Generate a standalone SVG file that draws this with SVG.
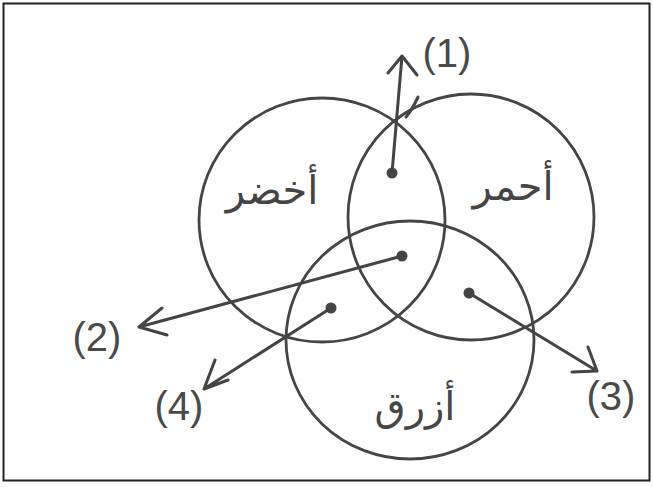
<svg xmlns="http://www.w3.org/2000/svg" width="653" height="487" viewBox="0 0 653 487">
<defs>
<style>
.c{fill:none;stroke:#454545;stroke-width:2.8}
.a{fill:none;stroke:#444;stroke-width:3;stroke-linecap:round;stroke-linejoin:round}
.d{fill:#454545}
.l{font-family:"Liberation Sans",sans-serif;fill:#4a4a4a;text-anchor:middle}
.ar{font-family:"DejaVu Sans",sans-serif;fill:#454545;text-anchor:middle}
</style>
</defs>
<rect width="653" height="487" fill="#fff"/>
<rect x="3.5" y="3.5" width="646" height="477" fill="none" stroke="#222" stroke-width="2"/>
<g id="green"><ellipse class="c" cx="322" cy="220" rx="123" ry="122"/><text class="ar" x="272" y="204" font-size="40">أخضر</text></g>
<g id="red"><ellipse class="c" cx="471" cy="217" rx="123" ry="123"/><text class="ar" x="513" y="200" font-size="40">أحمر</text></g>
<g id="blue"><ellipse class="c" cx="410" cy="340" rx="124" ry="119"/><text class="ar" x="415" y="420" font-size="40">أزرق</text></g>
<g id="connectors">
<circle class="d" cx="392" cy="173" r="5.5"/>
<circle class="d" cx="402" cy="256" r="5.5"/>
<circle class="d" cx="469" cy="293" r="5.5"/>
<circle class="d" cx="331" cy="308" r="5.5"/>
<path class="a" d="M392 173 L402 56 M388 73 L402 56 L417 75"/>
<path class="a" d="M402 256 L139 327 M162 308 L139 327 L167 335"/>
<path class="a" d="M469 293 L597 371 M588 347 L597 371 L572 372"/>
<path class="a" d="M331 308 L204 389 M215 360 L204 389 L228 380"/>
<path class="a" d="M418 97 Q412 110 406 117" stroke-width="1.2"/>
</g>
<g id="labels">
<text class="l" x="447" y="67" font-size="40">(1)</text>
<text class="l" x="97" y="351" font-size="40">(2)</text>
<text class="l" x="611" y="410" font-size="40">(3)</text>
<text class="l" x="179" y="420" font-size="40">(4)</text>
</g>
</svg>
